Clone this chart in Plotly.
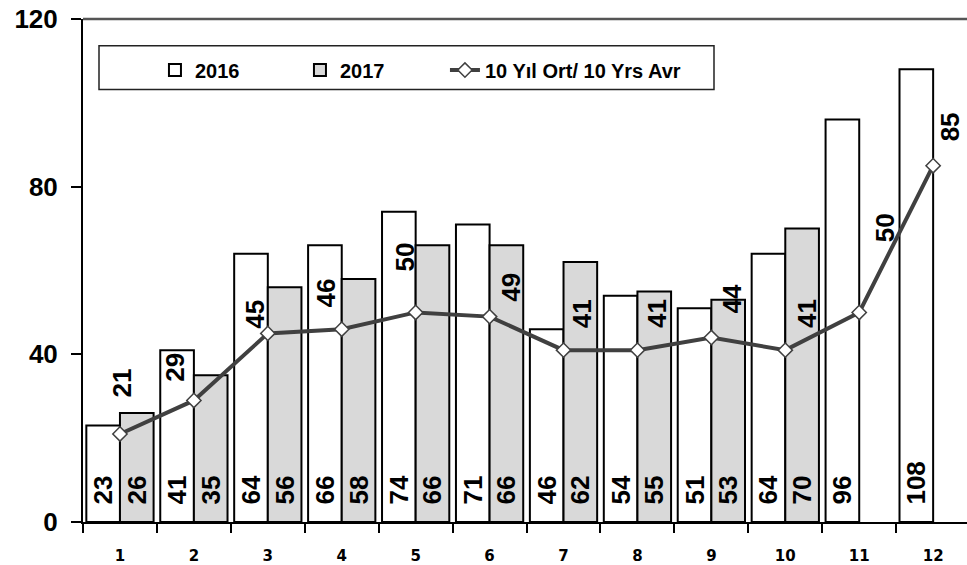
import plotly.graph_objects as go

months = ["1", "2", "3", "4", "5", "6", "7", "8", "9", "10", "11", "12"]
y2016 = [23, 41, 64, 66, 74, 71, 46, 54, 51, 64, 96, 108]
y2017 = [26, 35, 56, 58, 66, 66, 62, 55, 53, 70, None, None]
avg10 = [21, 29, 45, 46, 50, 49, 41, 41, 44, 41, 50, 85]
y_ticks = [0, 40, 80, 120]

# label offsets for the line labels (styling only): (xshift px, yshift px)
lbl_off = [(3, 35), (-19, 17), (-13, 3), (-16, 20), (-11, 39), (22, 13),
           (18, 20), (19, 20), (21, 22), (21, 20), (26, 68), (17, 22)]

LBL_FONT = dict(family="Liberation Sans", size=26, color="black", weight=700)
NB = "\u00a0\u00a0"

fig = go.Figure()
fig.add_trace(go.Bar(
    x=months, y=y2016, name="2016", legendwidth=100,
    marker=dict(color="white", line=dict(color="black", width=2)),
    texttemplate=NB + "%{y}", textposition="inside", insidetextanchor="start",
    textangle=-90, constraintext="none", insidetextfont=LBL_FONT,
    hoverinfo="skip",
))
fig.add_trace(go.Bar(
    x=months, y=y2017, name="2017", legendwidth=100,
    marker=dict(color="#d9d9d9", line=dict(color="black", width=2)),
    texttemplate=NB + "%{y}", textposition="inside", insidetextanchor="start",
    textangle=-90, constraintext="none", insidetextfont=LBL_FONT,
    hoverinfo="skip",
))
fig.add_trace(go.Scatter(
    x=months, y=avg10, name="10 Y\u0131l Ort/ 10 Yrs Avr", mode="lines+markers",
    legendwidth=230,
    line=dict(color="#404040", width=4),
    marker=dict(symbol="diamond", size=11, color="white",
                line=dict(color="#404040", width=1.5)),
    hoverinfo="skip",
))

for i, v in enumerate(avg10):
    dx, dy = lbl_off[i]
    fig.add_annotation(x=i, y=v, text=str(v), showarrow=False, textangle=-90,
                       xanchor="center", yanchor="bottom", xshift=dx, yshift=dy,
                       font=LBL_FONT)

# legend frame and top border of the plot area
fig.add_shape(type="rect", xref="paper", yref="paper", x0=0.0181, x1=0.7138,
              y0=0.860, y1=0.947, line=dict(color="#222", width=1.5),
              fillcolor="rgba(0,0,0,0)")
fig.add_shape(type="line", xref="paper", yref="paper", x0=0, x1=1, y0=1, y1=1,
              line=dict(color="#555555", width=2.5), layer="above")

fig.update_layout(
    width=967, height=565,
    margin=dict(l=83, r=0, t=19, b=43),
    paper_bgcolor="white", plot_bgcolor="white",
    barmode="group", bargap=0.09, bargroupgap=0,
    showlegend=True,
    legend=dict(orientation="h", x=0.0814, y=0.8985, xanchor="left", yanchor="middle",
                bgcolor="rgba(0,0,0,0)", borderwidth=0,
                font=dict(family="Liberation Sans", size=20, color="black", weight=700)),
    xaxis=dict(type="category", range=[-0.5, 11.458], tickson="boundaries",
               ticks="outside", ticklen=9, tickwidth=2, tickcolor="black",
               showline=True, linecolor="black", linewidth=2, showgrid=False,
               automargin=False,
               tickfont=dict(family="DejaVu Sans", size=15, color="black", weight=700),
               ticklabelstandoff=19),
    yaxis=dict(range=[0, 120], tickvals=y_ticks, ticks="outside", ticklen=10,
               tickwidth=2, tickcolor="black", showline=True, linecolor="black",
               linewidth=2, showgrid=False, zeroline=False,
               ticklabeloverflow="allow", automargin=False,
               tickfont=dict(family="Liberation Sans", size=26, color="black", weight=700),
               ticklabelstandoff=8),
)

fig.write_html("out.html", config={"displayModeBar": False},
               post_script="document.body.style.margin='0';document.body.style.overflow='hidden';")
